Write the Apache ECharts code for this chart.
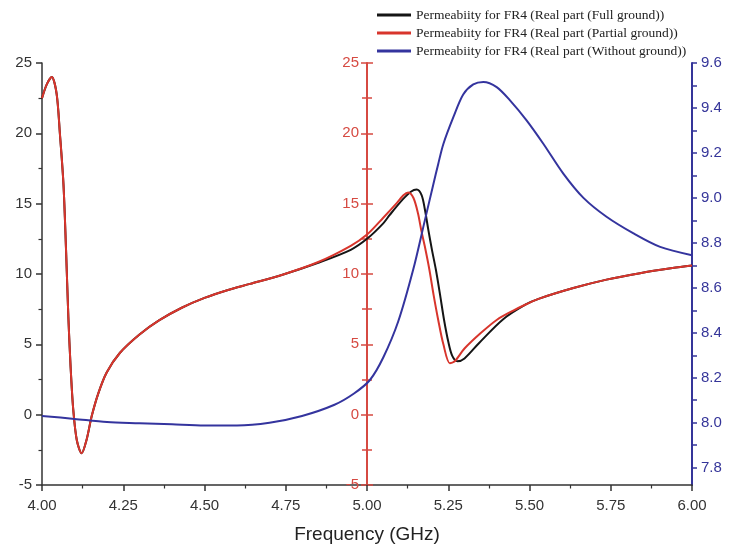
<!DOCTYPE html>
<html>
<head>
<meta charset="utf-8">
<script src="https://cdn.jsdelivr.net/npm/echarts@6/dist/echarts.min.js"></script>
<style>html,body{margin:0;padding:0;background:#fff}#c{width:730px;height:550px}</style>
</head>
<body>
<div id="c"></div>
<script>
// ---- data ----
var seriesNames = [
  'Permeabiity for FR4 (Real part (Full ground))',
  'Permeabiity for FR4 (Real part (Partial ground))',
  'Permeabiity for FR4 (Real part (Without ground))'
];
var xTickLabels = ['4.00','4.25','4.50','4.75','5.00','5.25','5.50','5.75','6.00'];
var leftTicks = [-5, 0, 5, 10, 15, 20, 25];
var rightTickLabels = [7.8, 8.0, 8.2, 8.4, 8.6, 8.8, 9.0, 9.2, 9.4, 9.6];
var rightMinorTicks = [7.8, 7.9, 8.0, 8.1, 8.2, 8.3, 8.4, 8.5, 8.6, 8.7, 8.8, 8.9, 9.0, 9.1, 9.2, 9.3, 9.4, 9.5, 9.6];

var freqPartial = [4.000, 4.015, 4.030, 4.045, 4.055, 4.066, 4.074, 4.081, 4.088, 4.096, 4.107, 4.122, 4.137, 4.153, 4.173, 4.199, 4.240, 4.300, 4.360, 4.430, 4.500, 4.570, 4.640, 4.740, 4.850, 4.950, 5.000, 5.050, 5.090, 5.112, 5.127, 5.143, 5.157, 5.167, 5.178, 5.192, 5.205, 5.219, 5.235, 5.255, 5.270, 5.300, 5.350, 5.400, 5.450, 5.490, 5.530, 5.635, 5.737, 5.840, 5.940, 6.000];
var valPartial  = [22.5, 23.5, 24.0, 22.8, 20.0, 16.4, 11.7, 7.0, 3.4, 0.4, -1.8, -2.75, -1.8, -0.1, 1.5, 3.0, 4.4, 5.7, 6.7, 7.6, 8.3, 8.85, 9.3, 9.95, 10.85, 12.0, 12.8, 14.0, 15.0, 15.6, 15.8, 15.4, 14.3, 13.1, 11.95, 10.3, 8.5, 6.75, 5.0, 3.65, 3.8, 4.7, 5.8, 6.75, 7.4, 7.85, 8.25, 9.0, 9.6, 10.06, 10.42, 10.6];

var freqFull = [4.000, 4.015, 4.030, 4.045, 4.055, 4.066, 4.074, 4.081, 4.088, 4.096, 4.107, 4.122, 4.137, 4.153, 4.173, 4.199, 4.240, 4.300, 4.360, 4.430, 4.500, 4.570, 4.640, 4.740, 4.850, 4.950, 5.000, 5.050, 5.070, 5.110, 5.135, 5.153, 5.168, 5.178, 5.189, 5.200, 5.212, 5.225, 5.237, 5.250, 5.262, 5.278, 5.300, 5.345, 5.420, 5.490, 5.530, 5.635, 5.737, 5.840, 5.940, 6.000];
var valFull  = [22.5, 23.5, 24.0, 22.8, 20.0, 16.4, 11.7, 7.0, 3.4, 0.4, -1.8, -2.75, -1.8, -0.1, 1.5, 3.0, 4.4, 5.7, 6.7, 7.6, 8.3, 8.85, 9.3, 9.95, 10.8, 11.72, 12.5, 13.6, 14.2, 15.3, 15.85, 16.0, 15.6, 14.6, 13.1, 11.7, 10.3, 8.5, 6.75, 5.2, 4.2, 3.8, 4.0, 5.1, 6.8, 7.85, 8.25, 9.0, 9.6, 10.06, 10.42, 10.6];

var freqWithout = [4.00, 4.10, 4.20, 4.30, 4.40, 4.50, 4.60, 4.70, 4.80, 4.90, 4.96, 5.009, 5.050, 5.096, 5.142, 5.178, 5.204, 5.219, 5.235, 5.266, 5.296, 5.327, 5.358, 5.399, 5.440, 5.491, 5.542, 5.604, 5.666, 5.737, 5.820, 5.902, 6.000];
var valWithout  = [8.03, 8.017, 8.003, 7.998, 7.993, 7.988, 7.988, 8.0, 8.03, 8.08, 8.13, 8.19, 8.29, 8.45, 8.68, 8.90, 9.06, 9.15, 9.24, 9.36, 9.46, 9.505, 9.516, 9.493, 9.434, 9.345, 9.242, 9.108, 9.0, 8.916, 8.842, 8.782, 8.745];

function pairs(xs, ys) { return xs.map(function (x, i) { return [x, ys[i]]; }); }

var BLACK = '#151515', RED = '#d8352c', BLUE = '#34349e';
var AX_DARK = '#333333', RED_AX = '#d64a42', BLUE_AX = '#353599';
var sans = '"Liberation Sans", Arial, sans-serif';

var chart = echarts.init(document.getElementById('c'), null, {renderer: 'canvas'});
chart.setOption({
  animation: false,
  backgroundColor: '#ffffff',
  grid: {left: 42, right: 38, top: 63, bottom: 65, containLabel: false, outerBoundsMode: 'none'},
  legend: {
    orient: 'vertical', left: 372, top: 3, itemWidth: 34, itemHeight: 3, itemGap: 4,
    icon: 'rect',
    textStyle: {fontFamily: '"Liberation Serif", "DejaVu Serif", serif', fontSize: 13.5, color: '#222', lineHeight: 14},
    data: seriesNames
  },
  xAxis: {
    type: 'value', min: 4, max: 6, interval: 0.25,
    name: 'Frequency (GHz)', nameLocation: 'middle', nameGap: 40,
    nameTextStyle: {fontFamily: sans, fontSize: 19, color: '#222'},
    axisLine: {show: true, onZero: false, lineStyle: {color: AX_DARK, width: 1.5}},
    axisTick: {show: true, inside: false, length: 6, lineStyle: {color: AX_DARK, width: 1.5}},
    minorTick: {show: true, splitNumber: 2, length: 3.5, lineStyle: {color: AX_DARK, width: 1.2}},
    axisLabel: {margin: 13, fontFamily: sans, fontSize: 15, color: '#333',
      formatter: function (v) { var s = v.toFixed(2); return xTickLabels.indexOf(s) >= 0 ? s : ''; }},
    splitLine: {show: false}
  },
  yAxis: [
    {
      type: 'value', position: 'left', min: leftTicks[0], max: leftTicks[leftTicks.length - 1], interval: 5,
      axisLine: {show: true, onZero: false, lineStyle: {color: AX_DARK, width: 1.5}},
      axisTick: {show: true, inside: false, length: 6, lineStyle: {color: AX_DARK, width: 1.5}},
      minorTick: {show: true, splitNumber: 2, length: 3.5, lineStyle: {color: AX_DARK, width: 1.2}},
      axisLabel: {margin: 10, fontFamily: sans, fontSize: 15, color: '#333'},
      splitLine: {show: false}
    },
    {
      type: 'value', position: 'left', offset: -325, min: -5, max: 25, interval: 5,
      axisLine: {show: true, onZero: false, lineStyle: {color: RED_AX, width: 2}},
      axisTick: {show: true, inside: false, length: 6, lineStyle: {color: RED_AX, width: 1.5}},
      minorTick: {show: true, splitNumber: 2, length: 5, lineStyle: {color: RED_AX, width: 1.5}},
      axisLabel: {margin: 8, fontFamily: sans, fontSize: 15, color: RED_AX},
      splitLine: {show: false}
    },
    {
      type: 'value', position: 'left', offset: -325, min: -5, max: 25, interval: 5,
      axisLine: {show: false, onZero: false},
      axisTick: {show: true, inside: true, length: 6, lineStyle: {color: RED_AX, width: 1.5}},
      minorTick: {show: true, splitNumber: 2, length: 5, lineStyle: {color: RED_AX, width: 1.5}},
      axisLabel: {show: false},
      splitLine: {show: false}
    },
    {
      type: 'value', position: 'right', min: 7.723, max: 9.6,
      axisLine: {show: true, onZero: false, lineStyle: {color: BLUE_AX, width: 2}},
      axisTick: {show: true, inside: false, length: 5, customValues: rightMinorTicks, lineStyle: {color: BLUE_AX, width: 1.5}},
      axisLabel: {margin: 9, fontFamily: sans, fontSize: 15, color: BLUE_AX, customValues: rightTickLabels,
        formatter: function (v) { return (+v).toFixed(1); }},
      splitLine: {show: false}
    }
  ],
  series: [
    {name: seriesNames[0], type: 'line', yAxisIndex: 0, data: pairs(freqFull, valFull), showSymbol: false,
      smooth: 0.3, lineStyle: {color: BLACK, width: 2}, itemStyle: {color: BLACK}},
    {name: seriesNames[1], type: 'line', yAxisIndex: 1, data: pairs(freqPartial, valPartial), showSymbol: false,
      smooth: 0.3, lineStyle: {color: RED, width: 2}, itemStyle: {color: RED}},
    {name: seriesNames[2], type: 'line', yAxisIndex: 3, data: pairs(freqWithout, valWithout), showSymbol: false,
      smooth: 0.3, lineStyle: {color: BLUE, width: 2}, itemStyle: {color: BLUE}}
  ]
});
</script>
</body>
</html>
